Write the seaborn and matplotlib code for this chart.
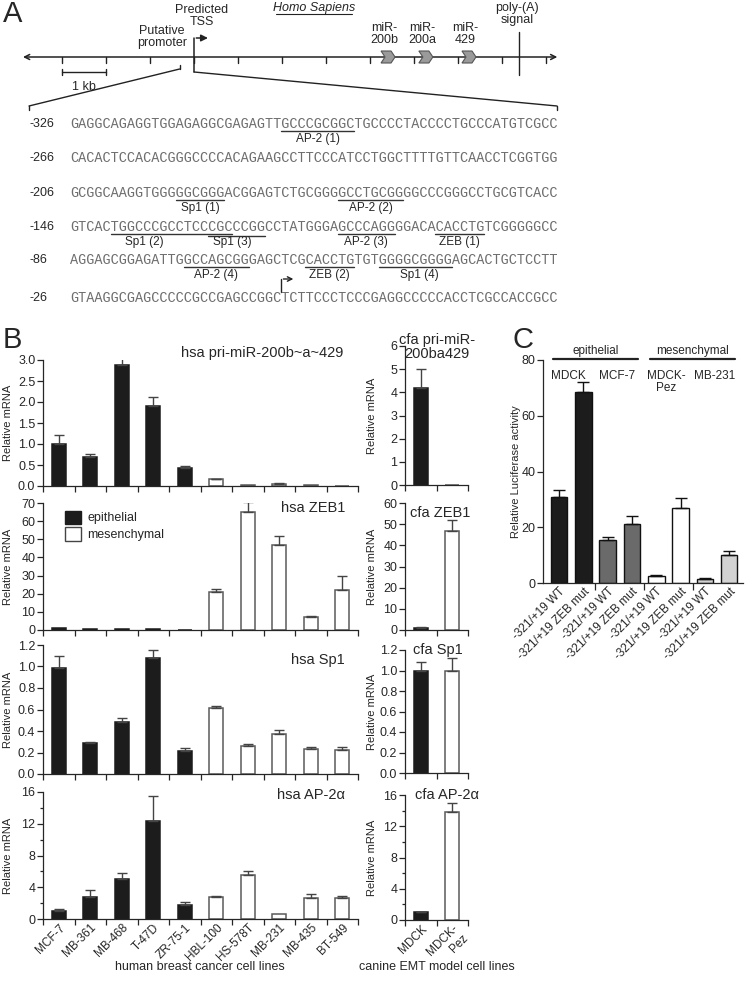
import numpy as np
import pandas as pd
import matplotlib
matplotlib.use("Agg")
import matplotlib.pyplot as plt
import matplotlib.ticker as ticker
from matplotlib.patches import Patch, Polygon
import seaborn as sns

# =========================================================================
# 1. DATA
# =========================================================================
W, H = 745, 981

human_cells = ["MCF-7", "MB-361", "MB-468", "T-47D", "ZR-75-1",
               "HBL-100", "HS-578T", "MB-231", "MB-435", "BT-549"]
human_type = ["epithelial"] * 5 + ["mesenchymal"] * 5
canine_cells = ["MDCK", "MDCK-\nPez"]
canine_type = ["epithelial", "mesenchymal"]

# bar value and top of error bar
hsa_mir = [1.00, 0.70, 2.87, 1.91, 0.42, 0.16, 0.015, 0.055, 0.015, 0.005]
hsa_mir_top = [1.21, 0.76, 3.04, 2.13, 0.47, 0.175, 0, 0.07, 0, 0]
hsa_zeb = [1.0, 0.3, 0.3, 0.3, 0.1, 21.0, 65.0, 47.0, 7.0, 22.0]
hsa_zeb_top = [0, 0, 0, 0, 0, 22.5, 70.5, 52.0, 7.5, 29.5]
hsa_sp1 = [0.99, 0.285, 0.48, 1.08, 0.21, 0.61, 0.265, 0.37, 0.23, 0.22]
hsa_sp1_top = [1.10, 0.295, 0.52, 1.15, 0.24, 0.63, 0.28, 0.41, 0.25, 0.25]
hsa_ap2 = [1.0, 2.8, 5.1, 12.3, 1.8, 2.8, 5.5, 0.6, 2.6, 2.7]
hsa_ap2_top = [1.3, 3.65, 5.85, 15.5, 2.15, 2.95, 6.05, 0, 3.1, 2.85]

cfa_mir = [4.2, 0.02]
cfa_mir_top = [5.0, 0]
cfa_zeb = [1.0, 47.0]
cfa_zeb_top = [1.4, 52.0]
cfa_sp1 = [1.0, 1.0]
cfa_sp1_top = [1.08, 1.12]
cfa_ap2 = [1.0, 13.8]
cfa_ap2_top = [1.08, 15.0]

luc_cells = ["MDCK", "MDCK", "MCF-7", "MCF-7", "MDCK-Pez", "MDCK-Pez", "MB-231", "MB-231"]
luc_constructs = ["-321/+19 WT", "-321/+19 ZEB mut"] * 4
luc_vals = [31.0, 68.5, 15.5, 21.0, 2.5, 27.0, 1.5, 10.0]
luc_top = [33.5, 72.0, 16.5, 24.0, 2.8, 30.5, 1.8, 11.5]
luc_groups = ["epithelial", "mesenchymal"]
luc_cell_labels = ["MDCK", "MCF-7", "MDCK-\nPez", "MB-231"]

# panel A: gene map (kb relative to TSS) and promoter sequence
gene_ticks_kb = np.arange(-3, 9)
gene_span_kb = (-3.95, 8.32)
mir_names = ["miR-\n200b", "miR-\n200a", "miR-\n429"]
mir_kb = [4.41, 5.27, 6.25]
polyA_kb = 7.39
promoter_kb = -0.326

seq_starts = ["-326", "-266", "-206", "-146", "-86", "-26"]
seq_lines = [
    "GAGGCAGAGGTGGAGAGGCGAGAGTTGCCCGCGGCTGCCCCTACCCCTGCCCATGTCGCC",
    "CACACTCCACACGGGCCCCACAGAAGCCTTCCCATCCTGGCTTTTGTTCAACCTCGGTGG",
    "GCGGCAAGGTGGGGGCGGGACGGAGTCTGCGGGGCCTGCGGGGCCCGGGCCTGCGTCACC",
    "GTCACTGGCCCGCCTCCCGCCCGGCCTATGGGAGCCCAGGGGACACACCTGTCGGGGGCC",
    "AGGAGCGGAGATTGGCCAGCGGGAGCTCGCACCTGTGTGGGGCGGGGAGCACTGCTCCTT",
    "GTAAGGCGAGCCCCCGCCGAGCCGGCTCTTCCCTCCCGAGGCCCCCACCTCGCCACCGCC",
]
# (line, first char, last char, label, label char position, level)
sites = [
    (0, 26, 34, "AP-2 (1)", 30.5, 0),
    (2, 13, 18, "Sp1 (1)", 16.0, 0),
    (2, 33, 40, "AP-2 (2)", 37.0, 0),
    (3, 5, 19, "Sp1 (2)", 9.2, 0),
    (3, 17, 23, "Sp1 (3)", 20.0, 1),
    (3, 33, 39, "AP-2 (3)", 36.5, 0),
    (3, 45, 50, "ZEB (1)", 48.0, 0),
    (4, 14, 21, "AP-2 (4)", 18.0, 0),
    (4, 29, 34, "ZEB (2)", 32.0, 0),
    (4, 38, 46, "Sp1 (4)", 43.0, 0),
]
tss_char = 26

# =========================================================================
# 2. STYLE
# =========================================================================
sns.set_style("ticks")
plt.rcParams["font.family"] = ["Liberation Sans", "DejaVu Sans"]
plt.rcParams["axes.linewidth"] = 0.9
plt.rcParams["xtick.major.width"] = 0.9
plt.rcParams["ytick.major.width"] = 0.9
plt.rcParams["xtick.minor.width"] = 0.9
plt.rcParams["ytick.minor.width"] = 0.9

type_fill = {"epithelial": "#1c1c1c", "mesenchymal": "#ffffff"}
cell_fill = {"MDCK": "#1c1c1c", "MCF-7": "#6a6a6a", "MDCK-Pez": "#ffffff", "MB-231": "#d2d2d2"}

fig = plt.figure(figsize=(W / 100, H / 100), dpi=100)


def px_axes(x0, y0, x1, y1):
    return fig.add_axes([x0 / W, 1 - y1 / H, (x1 - x0) / W, (y1 - y0) / H])


# overlay axes in pixel units for panel A and free text
ax_a = fig.add_axes([0, 0, 1, 1])
ax_a.set_xlim(0, W)
ax_a.set_ylim(H, 0)
ax_a.axis("off")

# =========================================================================
# 3. PANEL A
# =========================================================================
def gx(kb):
    return 194 + 44 * kb


def sx(i):
    return 70 + 8.12 * i


gy = 57
ax_a.annotate("", xy=(gx(gene_span_kb[0]), gy), xytext=(gx(gene_span_kb[1]), gy),
              arrowprops=dict(arrowstyle="<->", lw=1.1, color="#222", mutation_scale=9))
for t in gene_ticks_kb:
    ax_a.plot([gx(t), gx(t)], [gy, gy + 6], color="#222", lw=1)

# TSS bent arrow
ax_a.plot([gx(0), gx(0)], [gy + 15, 38], color="#222", lw=1.1)
ax_a.annotate("", xy=(gx(0.38), 38), xytext=(gx(0) - 0.5, 38),
              arrowprops=dict(arrowstyle="-|>", lw=1.1, color="#222", mutation_scale=10))
ax_a.text(gx(0.18), 16, "Predicted\nTSS", ha="center", va="center", fontsize=9, linespacing=1.1)
ax_a.text(gx(-0.73), 37, "Putative\npromoter", ha="center", va="center", fontsize=9, linespacing=1.1)

# promoter bracket and zoom lines
ax_a.plot([gx(promoter_kb), gx(promoter_kb)], [gy + 8, gy + 12], color="#222", lw=1)
ax_a.plot([gx(promoter_kb), 29], [gy + 12, 106], color="#222", lw=1)
ax_a.plot([gx(0), 557], [gy + 15, 106], color="#222", lw=1)
ax_a.plot([29, 29], [106, 110], color="#222", lw=1)
ax_a.plot([557, 557], [106, 110], color="#222", lw=1)

# miRNA chevrons
for name, kb in zip(mir_names, mir_kb):
    x = gx(kb)
    pts = [(x - 7, gy - 6), (x + 3, gy - 6), (x + 7, gy), (x + 3, gy + 6), (x - 7, gy + 6), (x - 3, gy)]
    ax_a.add_patch(Polygon(pts, closed=True, facecolor="#9a9a9a", edgecolor="#555", lw=0.8, zorder=3))
    ax_a.text(x - 4, 34, name, ha="center", va="center", fontsize=9, linespacing=1.1)

ax_a.plot([gx(polyA_kb), gx(polyA_kb)], [32, 75], color="#222", lw=1)
ax_a.text(gx(polyA_kb) - 2, 14, "poly-(A)\nsignal", ha="center", va="center", fontsize=9, linespacing=1.1)

ax_a.text(gx(2.73), 8, "Homo Sapiens", ha="center", va="center", fontsize=9, style="italic")
ax_a.plot([gx(2.73) - 38, gx(2.73) + 38], [14, 14], color="#222", lw=0.8)

# 1 kb scale bar
ax_a.plot([gx(-3), gx(-2)], [72, 72], color="#222", lw=1)
ax_a.plot([gx(-3), gx(-3)], [69, 75], color="#222", lw=1)
ax_a.plot([gx(-2), gx(-2)], [69, 75], color="#222", lw=1)
ax_a.text(gx(-2.5), 87, "1 kb", ha="center", va="center", fontsize=9)

# sequence block
seq_y = [124, 158, 193, 227, 260, 298]
for lab, seq, y in zip(seq_starts, seq_lines, seq_y):
    ax_a.text(29, y, lab, ha="left", va="center", fontsize=9)
    ax_a.text(sx(0), y, seq, ha="left", va="center", fontsize=9.74,
              family="Liberation Mono", color="#6e6e6e")
for line, a, b, lab, lpos, lev in sites:
    y = seq_y[line] + 7 + 2 * lev
    ax_a.plot([sx(a), sx(b + 1)], [y, y], color="#333", lw=1)
    ax_a.text(sx(lpos), seq_y[line] + 15, lab, ha="center", va="center", fontsize=8.5)

ax_a.plot([sx(tss_char), sx(tss_char)], [seq_y[5] - 6, seq_y[5] - 19], color="#222", lw=1)
ax_a.annotate("", xy=(sx(tss_char) + 15, seq_y[5] - 19), xytext=(sx(tss_char) - 0.5, seq_y[5] - 19),
              arrowprops=dict(arrowstyle="->", lw=1, color="#222", mutation_scale=8))

# panel letters and bottom captions
ax_a.text(3, 14, "A", fontsize=21, va="center", ha="left")
ax_a.text(3, 340, "B", fontsize=21, va="center", ha="left")
ax_a.text(512, 340, "C", fontsize=21, va="center", ha="left")
ax_a.text(200, 967, "human breast cancer cell lines", ha="center", va="center", fontsize=9)
ax_a.text(437, 967, "canine EMT model cell lines", ha="center", va="center", fontsize=9)


# =========================================================================
# 4. PANEL B
# =========================================================================
def bar_panel(ax, cells, types, vals, tops, ymax, ystep, yfmt, minor=None, show_labels=False):
    df = pd.DataFrame({"cell": cells, "val": vals, "type": types})
    sns.barplot(data=df, x="cell", y="val", hue="type", palette=type_fill, dodge=False,
                width=0.43, errorbar=None, legend=False, ax=ax)
    for p in ax.patches:
        white = p.get_facecolor()[0] > 0.5
        p.set_edgecolor("#5a5a5a" if white else "#1c1c1c")
        p.set_linewidth(1.1)
    x = np.arange(len(vals))
    v = np.array(vals)
    t = np.array(tops)
    m = t > 0
    ax.errorbar(x[m], v[m], yerr=[np.zeros(m.sum()), t[m] - v[m]], fmt="none",
                ecolor="#444", elinewidth=1, capsize=3.5, capthick=1)
    ax.set_xlim(-0.5, len(vals) - 0.5)
    ax.set_ylim(0, ymax)
    ax.yaxis.set_major_locator(ticker.MultipleLocator(ystep))
    ax.yaxis.set_major_formatter(ticker.FormatStrFormatter(yfmt))
    if minor:
        ax.yaxis.set_minor_locator(ticker.MultipleLocator(minor))
        ax.tick_params(axis="y", which="minor", length=2)
    ax.set_xticks(x)
    ax.set_xticks(np.arange(-0.5, len(vals), 1), minor=True)
    ax.tick_params(axis="x", which="major", length=0, pad=2)
    ax.tick_params(axis="x", which="minor", length=4)
    ax.tick_params(axis="y", which="major", length=4, labelsize=9, pad=1.5)
    if show_labels:
        ax.set_xticklabels(cells, rotation=45, ha="right", rotation_mode="anchor", fontsize=8.5)
    else:
        ax.set_xticklabels([])
    ax.set_xlabel("")
    ax.set_ylabel("Relative mRNA", fontsize=8)
    sns.despine(ax=ax)


ax1 = px_axes(43, 360, 358, 486)
bar_panel(ax1, human_cells, human_type, hsa_mir, hsa_mir_top, 3.0, 0.5, "%.1f")
ax1.text(0.952, 1.055, "hsa pri-miR-200b~a~429", transform=ax1.transAxes, ha="right", va="center", fontsize=10.5)
ax1.yaxis.set_label_coords(-0.095, 0.5)

ax2 = px_axes(43, 503, 358, 630)
bar_panel(ax2, human_cells, human_type, hsa_zeb, hsa_zeb_top, 70, 10, "%d")
ax2.text(0.959, 0.96, "hsa ZEB1", transform=ax2.transAxes, ha="right", va="center", fontsize=10.5)
ax2.yaxis.set_label_coords(-0.095, 0.5)
handles = [Patch(facecolor=type_fill["epithelial"], edgecolor="#1c1c1c"),
           Patch(facecolor=type_fill["mesenchymal"], edgecolor="#444")]
ax2.legend(handles, ["epithelial", "mesenchymal"], loc="upper left", bbox_to_anchor=(0.045, 1.0),
           frameon=False, fontsize=9, handlelength=1.3, handleheight=1.3, handletextpad=0.5,
           labelspacing=0.2, borderaxespad=0.2)

ax3 = px_axes(43, 645, 358, 774)
bar_panel(ax3, human_cells, human_type, hsa_sp1, hsa_sp1_top, 1.2, 0.2, "%.1f")
ax3.text(0.959, 0.884, "hsa Sp1", transform=ax3.transAxes, ha="right", va="center", fontsize=10.5)
ax3.yaxis.set_label_coords(-0.095, 0.5)

ax4 = px_axes(43, 792, 358, 919)
bar_panel(ax4, human_cells, human_type, hsa_ap2, hsa_ap2_top, 16, 4, "%d", minor=2, show_labels=True)
ax4.text(0.959, 0.976, "hsa AP-2\u03b1", transform=ax4.transAxes, ha="right", va="center", fontsize=10.5)
ax4.yaxis.set_label_coords(-0.095, 0.5)

bx1 = px_axes(405, 346, 468, 485)
bar_panel(bx1, canine_cells, canine_type, cfa_mir, cfa_mir_top, 6, 1, "%d")
bx1.text(0.51, 0.99, "cfa pri-miR-\n200ba429", transform=bx1.transAxes, ha="center", va="center",
         fontsize=10.5, linespacing=1.0)
bx1.yaxis.set_label_coords(-0.44, 0.5)

bx2 = px_axes(405, 503, 468, 630)
bar_panel(bx2, canine_cells, canine_type, cfa_zeb, cfa_zeb_top, 60, 10, "%d")
bx2.text(0.08, 0.92, "cfa ZEB1", transform=bx2.transAxes, ha="left", va="center", fontsize=10.5)
bx2.yaxis.set_label_coords(-0.44, 0.5)

bx3 = px_axes(405, 650, 468, 773)
bar_panel(bx3, canine_cells, canine_type, cfa_sp1, cfa_sp1_top, 1.2, 0.2, "%.1f")
bx3.text(0.13, 1.0, "cfa Sp1", transform=bx3.transAxes, ha="left", va="center", fontsize=10.5)
bx3.yaxis.set_label_coords(-0.44, 0.5)

bx4 = px_axes(405, 795, 468, 920)
bar_panel(bx4, canine_cells, canine_type, cfa_ap2, cfa_ap2_top, 16, 4, "%d", minor=2, show_labels=True)
bx4.text(0.16, 1.0, "cfa AP-2\u03b1", transform=bx4.transAxes, ha="left", va="center", fontsize=10.5)
bx4.yaxis.set_label_coords(-0.44, 0.5)

# =========================================================================
# 5. PANEL C
# =========================================================================
axc = px_axes(543, 360, 743, 583)
keys = [f"{c}|{k}" for c, k in zip(luc_cells, luc_constructs)]
dfc = pd.DataFrame({"key": keys, "val": luc_vals, "cell": luc_cells})
sns.barplot(data=dfc, x="key", y="val", hue="cell", palette=cell_fill, dodge=False,
            width=0.68, errorbar=None, legend=False, ax=axc)
for p in axc.patches:
    p.set_edgecolor("#111")
    p.set_linewidth(1.0)
xc = np.arange(len(luc_vals))
axc.errorbar(xc, luc_vals, yerr=[np.zeros(len(xc)), np.array(luc_top) - np.array(luc_vals)],
             fmt="none", ecolor="#111", elinewidth=1, capsize=4.5, capthick=1)
axc.set_xlim(-0.66, 7.57)
axc.set_ylim(0, 80)
axc.yaxis.set_major_locator(ticker.MultipleLocator(20))
axc.set_xticks(xc)
axc.set_xticklabels(luc_constructs, rotation=45, ha="right", rotation_mode="anchor", fontsize=8.5)
axc.set_xticks([1.5, 3.5, 5.5], minor=True)
axc.tick_params(axis="x", which="major", length=0, pad=2)
axc.tick_params(axis="x", which="minor", length=5)
axc.tick_params(axis="y", which="major", length=4, labelsize=9, pad=1.5)
axc.set_xlabel("")
axc.set_ylabel("Relative Luciferase activity", fontsize=8)
axc.yaxis.set_label_coords(-0.11, 0.5)
sns.despine(ax=axc)

for gi, g in enumerate(luc_groups):
    a, b = gi * 4 - 0.25, gi * 4 + 3.25
    axc.plot([a, b], [80.3, 80.3], color="#222", lw=1.6, clip_on=False)
    axc.text((a + b) / 2, 83.2, g, ha="center", va="center", fontsize=8.5)
for ci, lab in enumerate(luc_cell_labels):
    axc.text(ci * 2 + 0.4, 76.4, lab, ha="center", va="top", fontsize=8.5, linespacing=1.0)

fig.savefig("out.png", dpi=100)
